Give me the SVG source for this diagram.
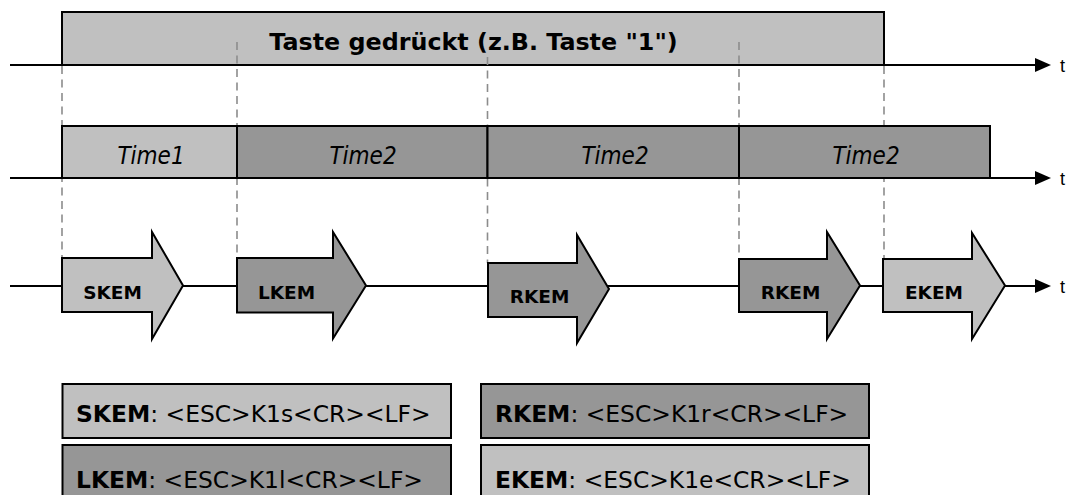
<svg xmlns="http://www.w3.org/2000/svg" width="1067" height="495" viewBox="0 0 1067 495">
  <defs>
    <marker id="axisHead" viewBox="0 0 16 14" refX="0" refY="7" markerWidth="16" markerHeight="14" markerUnits="userSpaceOnUse" orient="auto">
      <path d="M0,0 L16,7 L0,14 Z" fill="#000"/>
    </marker>
    <style>
      .light { fill: #c0c0c0; stroke: #000; stroke-width: 2; }
      .dark { fill: #969696; stroke: #000; stroke-width: 2; }
      .axis { stroke: #000; stroke-width: 2; fill: none; }
      .guide { stroke: #8c8c8c; stroke-width: 1.6; stroke-dasharray: 8 5.5; fill: none; }
      .title { font-family: "DejaVu Sans", Verdana, sans-serif; font-weight: bold; font-size: 23.8px; fill: #000; }
      .time { font-family: "DejaVu Sans Condensed", "DejaVu Sans", sans-serif; font-style: italic; font-size: 24px; fill: #000; }
      .msg { font-family: "DejaVu Sans", Verdana, sans-serif; font-weight: bold; font-size: 18.5px; fill: #000; }
      .legend { font-family: "DejaVu Sans", Verdana, sans-serif; font-size: 23.4px; fill: #000; }
      .legend tspan.key { font-weight: bold; }
      .t { font-family: "Liberation Sans", Arial, sans-serif; font-size: 18px; fill: #000; }
    </style>
  </defs>

  <!-- key press interval -->
  <g id="key-pressed">
    <rect class="light" x="62" y="12" width="822" height="53"/>
    <text class="title" x="473.5" y="50" text-anchor="middle">Taste gedrückt (z.B. Taste "1")</text>
  </g>

  <!-- time axes -->
  <g id="connectors">
    <line class="axis" x1="10" y1="65" x2="1035" y2="65" marker-end="url(#axisHead)"/>
    <line class="axis" x1="10" y1="178" x2="1035" y2="178" marker-end="url(#axisHead)"/>
    <line class="axis" x1="10" y1="286" x2="1035" y2="286" marker-end="url(#axisHead)"/>
    <!-- dashed guides between events -->
    <line class="guide" x1="62" y1="66" x2="62" y2="258"/>
    <line class="guide" x1="237" y1="42" x2="237" y2="258"/>
    <line class="guide" x1="487.5" y1="57" x2="487.5" y2="263"/>
    <line class="guide" x1="739" y1="42" x2="739" y2="259"/>
    <line class="guide" x1="884" y1="66" x2="884" y2="259"/>
  </g>

  <g id="axis-labels">
    <text class="t" x="1060" y="72">t</text>
    <text class="t" x="1060" y="185">t</text>
    <text class="t" x="1060" y="293">t</text>
  </g>

  <!-- timer intervals -->
  <g id="time1">
    <rect class="light" x="62" y="126" width="175" height="52"/>
    <text class="time" x="151" y="164" text-anchor="middle">Time1</text>
  </g>
  <g id="time2-a">
    <rect class="dark" x="237" y="126" width="250.5" height="52"/>
    <text class="time" x="363" y="164" text-anchor="middle">Time2</text>
  </g>
  <g id="time2-b">
    <rect class="dark" x="487.5" y="126" width="251.5" height="52"/>
    <text class="time" x="615" y="164" text-anchor="middle">Time2</text>
  </g>
  <g id="time2-c">
    <rect class="dark" x="739" y="126" width="251" height="52"/>
    <text class="time" x="866" y="164" text-anchor="middle">Time2</text>
  </g>

  <!-- emitted messages -->
  <g id="skem">
    <path class="light" d="M62,258 L152,258 L152,232 L183,285.5 L152,339 L152,312 L62,312 Z"/>
    <text class="msg" x="112.5" y="299" text-anchor="middle">SKEM</text>
  </g>
  <g id="lkem">
    <path class="dark" d="M237,258 L333,258 L333,232 L366,285.5 L333,338.5 L333,312.5 L237,312.5 Z"/>
    <text class="msg" x="286.5" y="299" text-anchor="middle">LKEM</text>
  </g>
  <g id="rkem-1">
    <path class="dark" d="M488,263 L577,263 L577,235 L609,289 L577,343 L577,317 L488,317 Z"/>
    <text class="msg" x="539.5" y="303" text-anchor="middle">RKEM</text>
  </g>
  <g id="rkem-2">
    <path class="dark" d="M739,259 L827,259 L827,232 L860,285.5 L827,339 L827,312 L739,312 Z"/>
    <text class="msg" x="790.5" y="299" text-anchor="middle">RKEM</text>
  </g>
  <g id="ekem">
    <path class="light" d="M883,259 L972,259 L972,233 L1005,285.5 L972,339 L972,312 L883,312 Z"/>
    <text class="msg" x="934" y="299" text-anchor="middle">EKEM</text>
  </g>

  <!-- legend -->
  <g id="legend-skem">
    <rect class="light" x="62.5" y="384" width="388.5" height="54"/>
    <text class="legend" x="76" y="422"><tspan class="key">SKEM</tspan>: &lt;ESC&gt;K1s&lt;CR&gt;&lt;LF&gt;</text>
  </g>
  <g id="legend-lkem">
    <rect class="dark" x="62.5" y="445" width="388.5" height="56"/>
    <text class="legend" x="76" y="488"><tspan class="key">LKEM</tspan>: &lt;ESC&gt;K1l&lt;CR&gt;&lt;LF&gt;</text>
  </g>
  <g id="legend-rkem">
    <rect class="dark" x="481" y="384" width="388" height="54"/>
    <text class="legend" x="495" y="422"><tspan class="key">RKEM</tspan>: &lt;ESC&gt;K1r&lt;CR&gt;&lt;LF&gt;</text>
  </g>
  <g id="legend-ekem">
    <rect class="light" x="481" y="445" width="388" height="56"/>
    <text class="legend" x="495" y="488"><tspan class="key">EKEM</tspan>: &lt;ESC&gt;K1e&lt;CR&gt;&lt;LF&gt;</text>
  </g>
</svg>
